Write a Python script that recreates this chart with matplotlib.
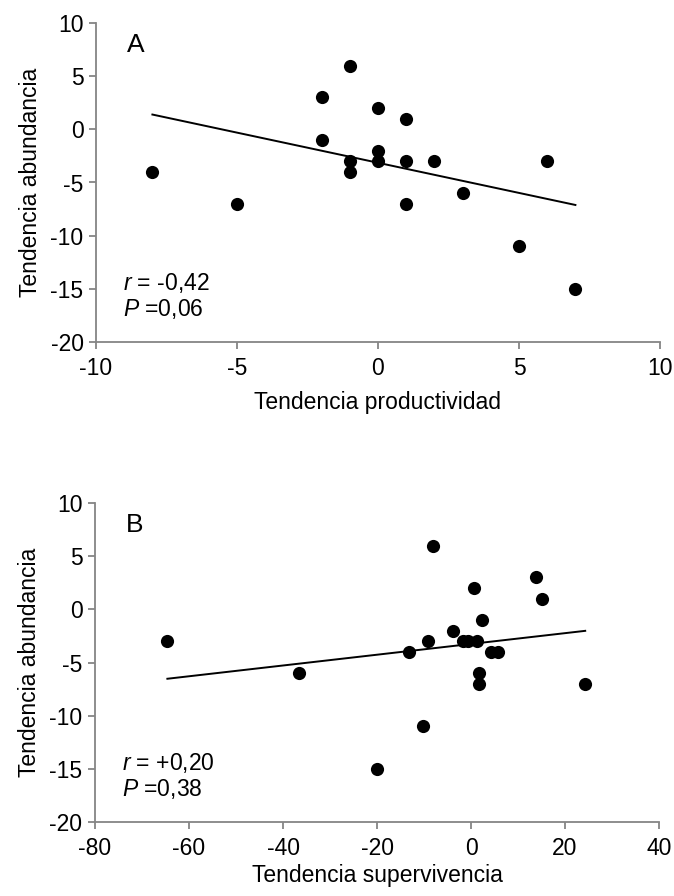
import numpy as np
import matplotlib
matplotlib.use('Agg')
import matplotlib.pyplot as plt

plt.rcParams['font.family'] = ['Liberation Sans', 'DejaVu Sans']
plt.rcParams['mathtext.fontset'] = 'custom'
plt.rcParams['mathtext.rm'] = 'Liberation Sans'
plt.rcParams['mathtext.it'] = 'Liberation Sans:italic'

# panel A: productividad vs abundancia
prod_x = [-8, -5, -2, -2, -1, -1, -1, 0, 0, 0, 1, 1, 1, 2, 3, 5, 6, 7]
prod_y = [-4, -7, 3, -1, 6, -3, -4, 2, -2, -3, 1, -3, -7, -3, -6, -11, -3, -15]

# panel B: supervivencia vs abundancia
surv_x = [-64.6, -36.5, -8.0, -20.0, -10.3, -13.2, -9.1, -3.9, -1.8, -0.6,
          0.6, 1.2, 2.4, 1.8, 1.8, 4.2, 5.7, 13.9, 15.1, 24.3]
surv_y = [-3, -6, 6, -15, -11, -4, -3, -2, -3, -3,
          2, -3, -1, -6, -7, -4, -4, 3, 1, -7]

yticks = [-20, -15, -10, -5, 0, 5, 10]
xticks_a = [-10, -5, 0, 5, 10]
xticks_b = [-80, -60, -40, -20, 0, 20, 40]

gris = '#858585'
fs = 16.5

fig = plt.figure(figsize=(6.74, 8.96), dpi=100)
W, H = 674, 896
axA = fig.add_axes([96 / W, 1 - 342 / H, (660 - 96) / W, (342 - 23) / H])
axB = fig.add_axes([95 / W, 1 - 822 / H, (659 - 95) / W, (822 - 503) / H])


def dibujar(ax, x, y, xticks, xlabel, letra, r_txt, p_txt, lpad):
    ax.scatter(x, y, s=90, color='black', zorder=3, linewidths=0)
    m, b = np.polyfit(x, y, 1)
    xs = np.array([min(x), max(x)])
    ax.plot(xs, m * xs + b, color='black', lw=1.4, zorder=2)
    ax.set_xlim(xticks[0], xticks[-1])
    ax.set_ylim(-20, 10)
    ax.set_xticks(xticks)
    ax.set_yticks(yticks)
    ax.set_xticklabels([str(t) for t in xticks])
    ax.set_yticklabels([str(t) for t in yticks])
    for s in ['top', 'right']:
        ax.spines[s].set_visible(False)
    for s in ['left', 'bottom']:
        ax.spines[s].set_color(gris)
        ax.spines[s].set_linewidth(1.3)
    ax.tick_params(direction='out', length=5, width=1.3, color=gris,
                   labelsize=fs)
    ax.tick_params(axis='x', pad=6)
    ax.tick_params(axis='y', pad=4)
    ax.set_xlabel(xlabel, fontsize=fs, labelpad=lpad)
    ax.set_ylabel('Tendencia abundancia', fontsize=fs, labelpad=6)
    ax.text(0.055, 0.932, letra, transform=ax.transAxes, fontsize=19,
            va='center', ha='left')
    ax.text(0.047, 0.186, r_txt, transform=ax.transAxes, fontsize=fs,
            va='center', ha='left')
    ax.text(0.047, 0.104, p_txt, transform=ax.transAxes, fontsize=fs,
            va='center', ha='left')


dibujar(axA, prod_x, prod_y, xticks_a, 'Tendencia productividad', 'A',
        r'$\it{r}$ = -0,42', r'$\it{P}$ =0,06', 8)
dibujar(axB, surv_x, surv_y, xticks_b, 'Tendencia supervivencia', 'B',
        r'$\it{r}$ = +0,20', r'$\it{P}$ =0,38', 3)

fig.savefig('out.png', dpi=100)
